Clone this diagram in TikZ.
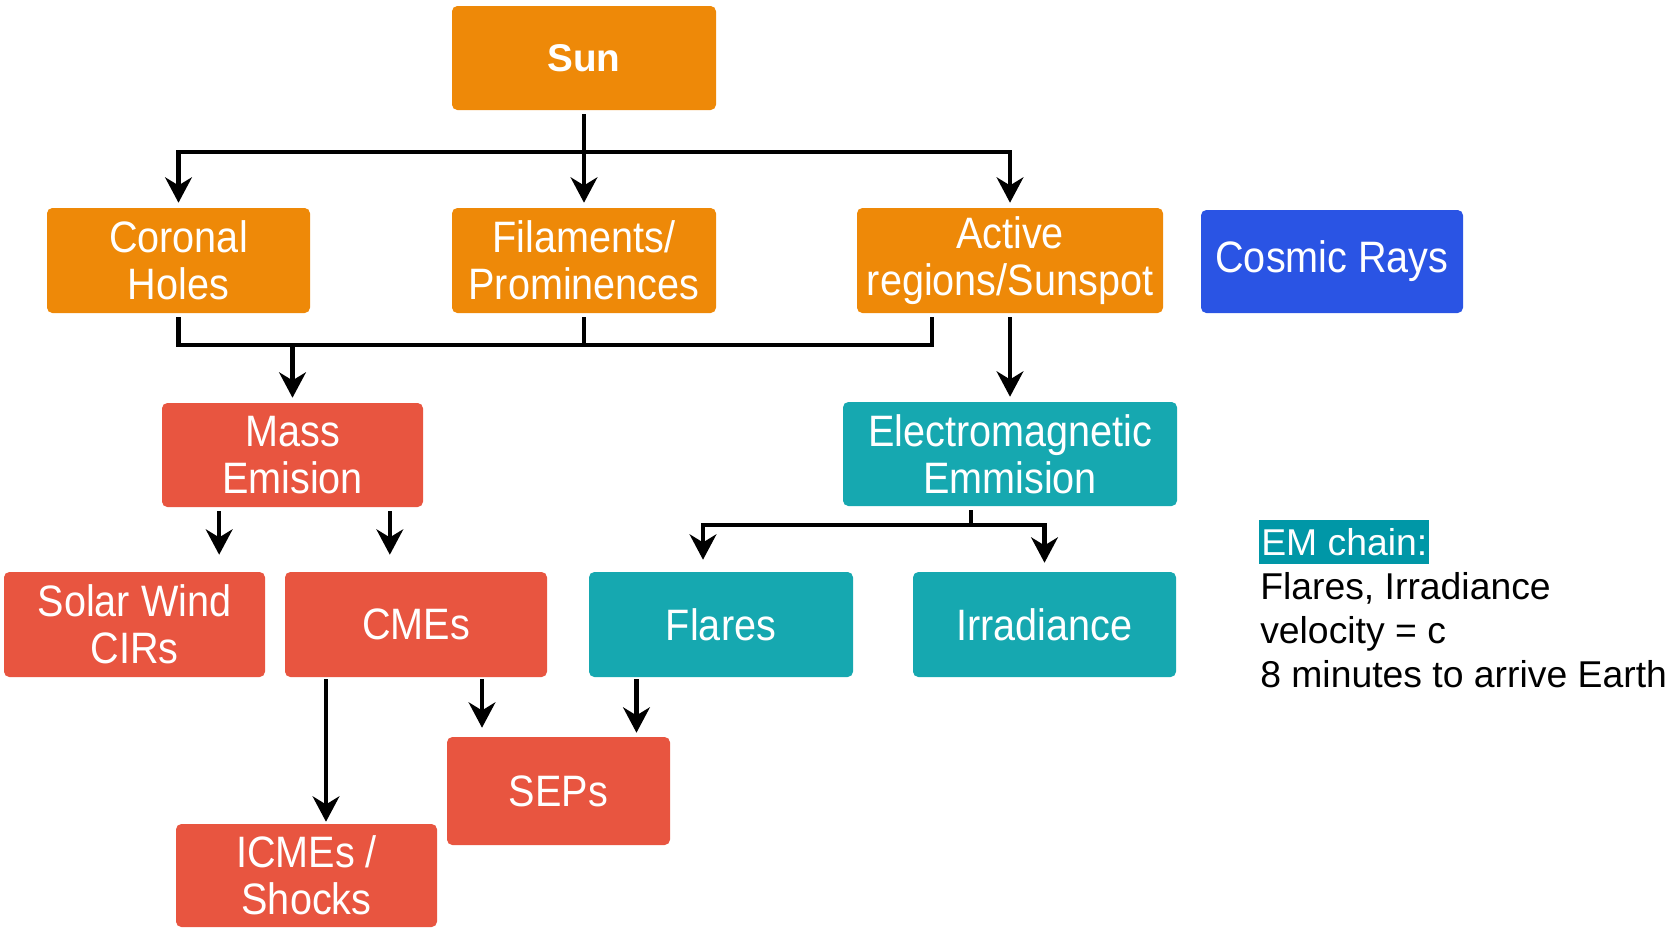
\documentclass[tikz,border=0pt]{standalone}
\usepackage{fontspec}
\setmainfont{Liberation Sans}
\newfontfamily\boxfont[FakeStretch=0.9]{Liberation Sans}
\usetikzlibrary{arrows.meta}
\definecolor{cOrange}{RGB}{238,137,8}
\definecolor{cRed}{RGB}{232,85,64}
\definecolor{cTeal}{RGB}{22,168,176}
\definecolor{cBlue}{RGB}{42,84,228}
\definecolor{cHl}{RGB}{0,151,167}
% box macro: style, name, x1, y1, x2, y2, text  (pixel coordinates)
\newcommand\bx[7]{\node[#1, minimum width={(#5-#3)*0.75pt}, minimum height={(#6-#4)*0.75pt}] (#2) at ({(#3+#5)/2},{(#4+#6)/2}) {#7};}
\begin{document}
\begin{tikzpicture}[x=0.75pt,y=-0.75pt,
  box/.style={rounded corners=4pt, inner sep=0pt, text=white, align=center,
    font=\boxfont\fontsize{33}{35.25}\selectfont},
  ob/.style={box, fill=cOrange},
  rb/.style={box, fill=cRed},
  tb/.style={box, fill=cTeal},
  bb/.style={box, fill=cBlue},
  ln/.style={line width=3.2pt, draw=black},
  arr/.style={ln, -{Stealth[length=19pt, width=20pt, inset=6pt]}},
  note/.style={anchor=base west, inner sep=0pt, font=\fontsize{28}{33}\selectfont},
]
\useasboundingbox (0,0) rectangle (1670,929);

% boxes
\bx{ob}{sun}{452}{6}{716}{110}{\rmfamily\bfseries\fontsize{29}{30}\selectfont Sun}
\bx{ob}{coronal}{47}{208}{310}{313}{Coronal\\Holes}
\bx{ob}{fil}{452}{208}{716}{313}{Filaments/\\Prominences}
\bx{ob}{active}{857}{208}{1163}{313}{Active\\regions/Sunspot}
\bx{bb}{cosmic}{1201}{210}{1463}{313}{Cosmic Rays}
\bx{rb}{mass}{162}{403}{423}{507}{Mass\\Emision}
\bx{tb}{em}{843}{402}{1177}{506}{Electromagnetic\\Emmision}
\bx{rb}{solar}{4}{572}{265}{677}{Solar Wind\\CIRs}
\bx{rb}{cmes}{285}{572}{547}{677}{CMEs}
\bx{tb}{flares}{589}{572}{853}{677}{Flares}
\bx{tb}{irr}{913}{572}{1176}{677}{Irradiance}
\bx{rb}{seps}{447}{737}{670}{845}{SEPs}
\bx{rb}{icmes}{176}{824}{437}{927}{ICMEs /\\Shocks}

% Sun to second row
\coordinate (j1) at (584,152);
\draw[ln, shorten <=3pt] (sun.south) -- (sun.south |- j1);
\draw[arr, shorten >=3.75pt] (j1) -| (coronal.north);
\draw[arr, shorten >=3.75pt] (j1) -- (fil.north);
\draw[arr, shorten >=3.75pt] (j1) -| (active.north);

% second row to Mass Emision
\coordinate (j2) at (292.5,345);
\draw[ln, shorten <=3pt] (coronal.south) |- (j2);
\draw[ln, shorten <=3pt] (fil.south) -- (fil.south |- j2);
\draw[ln, shorten <=3pt] ([xshift=-58.5pt]active.south) |- (j2);
\draw[arr, shorten >=3.75pt] (j2) -- (mass.north);

% Active to EM
\draw[arr, shorten <=3pt, shorten >=3.75pt] (active.south) -- (em.north);

% EM to Flares / Irradiance
\coordinate (j3) at (971,525);
\draw[ln, shorten <=3pt] ([xshift=-29.25pt]em.south) -- ([xshift=-29.25pt]em.south |- j3);
\draw[arr, shorten >=9pt] (j3) -| ([xshift=-13.5pt]flares.north);
\draw[arr, shorten >=6.75pt] (j3) -| (irr.north);

% Mass Emision to Solar Wind / CMEs
\draw[arr, shorten <=3pt, shorten >=12.75pt] ([xshift=-55pt]mass.south) -- ([xshift=-55pt]mass.south |- solar.north);
\draw[arr, shorten <=3pt, shorten >=12.75pt] ([xshift=73pt]mass.south) -- ([xshift=73pt]mass.south |- cmes.north);

% CMEs to ICMEs / SEPs
\draw[arr, shorten <=1.5pt, shorten >=1.5pt] ([xshift=-67.5pt]cmes.south) -- ([xshift=-67.5pt]cmes.south |- icmes.north);
\draw[arr, shorten <=1.5pt, shorten >=6.75pt] ([xshift=49.5pt]cmes.south) -- ([xshift=49.5pt]cmes.south |- seps.north);
% Flares to SEPs
\draw[arr, shorten <=1.5pt, shorten >=3pt] ([xshift=-63.4pt]flares.south) -- ([xshift=-63.4pt]flares.south |- seps.north);

% note
\node[anchor=base west, fill=cHl, text=white, inner xsep=1.5pt, inner ysep=0pt,
  text height=26.25pt, text depth=6.75pt, font=\fontsize{28}{33}\selectfont] (hl) at (1259,555) {EM chain:};
\node[note] (n1) at (1260,599) {Flares, Irradiance};
\node[note] (n2) at (1260,643) {velocity = c};
\node[note] (n3) at (1260,687) {8 minutes to arrive Earth};
\end{tikzpicture}
\end{document}
